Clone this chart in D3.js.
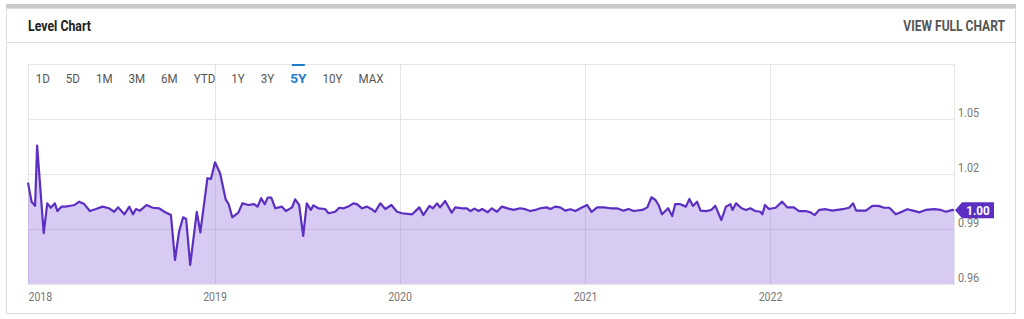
<!DOCTYPE html>
<html>
<head>
<meta charset="utf-8">
<script src="https://cdn.jsdelivr.net/npm/d3@7"></script>
<style>
  body { margin: 0; background: #fff; }
  svg { display: block; font-family: Roboto, "Noto Sans", sans-serif; }
</style>
</head>
<body>
<svg id="chart"></svg>
<script>
// weekly-ish readings of the level, by year
var dates2018 = ["2017-12-29","2018-01-05","2018-01-12","2018-01-16","2018-01-29","2018-02-05","2018-02-12","2018-02-20","2018-02-25","2018-03-05",
  "2018-03-13","2018-03-23","2018-03-31","2018-04-09","2018-04-19","2018-04-30","2018-05-12","2018-05-25","2018-06-07","2018-06-17",
  "2018-06-25","2018-07-07","2018-07-17","2018-07-24","2018-07-30","2018-08-07","2018-08-20","2018-09-01","2018-09-14","2018-09-24",
  "2018-10-07","2018-10-15","2018-10-23","2018-10-31","2018-11-06","2018-11-14","2018-11-27","2018-12-04","2018-12-18","2018-12-25"];
var levels2018 = [1.0153,1.0049,1.0026,1.0355,0.9878,1.0040,1.0016,1.0040,0.9998,1.0022,
  1.0022,1.0027,1.0031,1.0049,1.0036,0.9998,1.0009,1.0022,1.0013,0.9994,
  1.0018,0.9980,1.0022,0.9980,1.0009,1.0000,1.0031,1.0016,1.0013,0.9994,
  0.9976,0.9731,0.9885,0.9964,0.9955,0.9704,0.9994,0.9882,1.0177,1.0173];

var dates2019 = ["2019-01-02","2019-01-12","2019-01-23","2019-01-29","2019-02-05","2019-02-17","2019-02-25","2019-03-09","2019-03-20","2019-03-27",
  "2019-04-03","2019-04-10","2019-04-16","2019-04-23","2019-05-01","2019-05-14","2019-05-22","2019-06-03","2019-06-09","2019-06-17",
  "2019-06-25","2019-07-02","2019-07-10","2019-07-15","2019-07-25","2019-08-07","2019-08-14","2019-08-27","2019-09-04","2019-09-13",
  "2019-09-24","2019-10-02","2019-10-09","2019-10-19","2019-10-29","2019-11-07","2019-11-14","2019-11-24","2019-12-04","2019-12-16","2019-12-27"];
var levels2019 = [1.0264,1.0204,1.0062,1.0035,0.9964,0.9989,1.0040,1.0031,1.0036,1.0022,
  1.0068,1.0035,1.0071,1.0071,1.0013,1.0022,0.9998,1.0018,1.0062,1.0031,
  0.9862,1.0040,1.0004,1.0029,1.0013,1.0009,0.9986,0.9994,1.0016,1.0013,
  1.0026,1.0040,1.0036,1.0013,1.0022,1.0008,0.9994,1.0040,1.0009,1.0031,0.9994];

var dates2020 = ["2020-01-06","2020-01-26","2020-02-09","2020-02-17","2020-02-29","2020-03-07","2020-03-15","2020-03-21","2020-03-31","2020-04-13",
  "2020-04-20","2020-05-03","2020-05-13","2020-05-20","2020-05-28","2020-06-05","2020-06-12","2020-06-23","2020-07-01","2020-07-11",
  "2020-07-21","2020-08-03","2020-08-13","2020-08-26","2020-09-05","2020-09-15","2020-09-25","2020-10-05","2020-10-17","2020-10-25",
  "2020-11-03","2020-11-13","2020-11-23","2020-12-03","2020-12-13","2020-12-23"];
var levels2020 = [0.9986,0.9980,1.0018,0.9976,1.0026,1.0013,1.0040,1.0018,1.0053,0.9989,
  1.0018,1.0013,1.0013,0.9998,1.0011,0.9998,1.0009,0.9991,1.0013,0.9994,
  1.0022,1.0011,1.0004,1.0013,1.0008,0.9998,1.0004,1.0013,1.0018,1.0009,
  1.0022,1.0018,1.0000,1.0008,0.9998,1.0013];

var dates2021 = ["2021-01-05","2021-01-14","2021-01-25","2021-02-07","2021-02-20","2021-03-05","2021-03-18","2021-03-28","2021-04-07","2021-04-24",
  "2021-05-04","2021-05-12","2021-05-20","2021-05-26","2021-06-02","2021-06-14","2021-06-22","2021-06-28","2021-07-07","2021-07-19",
  "2021-07-26","2021-08-02","2021-08-10","2021-08-17","2021-08-30","2021-09-07","2021-09-15","2021-09-27","2021-10-06","2021-10-15",
  "2021-10-19","2021-10-26","2021-11-06","2021-11-15","2021-11-23","2021-12-03","2021-12-13","2021-12-17","2021-12-22","2021-12-30"];
var levels2021 = [1.0031,0.9994,1.0018,1.0018,1.0013,1.0013,1.0000,1.0009,0.9998,1.0004,
  1.0018,1.0073,1.0058,1.0031,0.9980,1.0013,0.9971,1.0036,1.0036,1.0022,
  1.0064,1.0026,1.0049,1.0000,0.9998,1.0004,1.0026,0.9949,1.0022,1.0035,
  1.0004,1.0040,1.0013,1.0004,1.0013,0.9998,0.9994,0.9980,1.0031,1.0009];

var dates2022 = ["2022-01-12","2022-01-25","2022-02-04","2022-02-17","2022-02-27","2022-03-12","2022-03-22","2022-03-30","2022-04-08","2022-04-21",
  "2022-05-04","2022-05-24","2022-06-06","2022-06-14","2022-06-20","2022-06-29","2022-07-09","2022-07-22","2022-08-03","2022-08-14",
  "2022-08-24","2022-08-29","2022-09-06","2022-09-18","2022-09-29","2022-10-10","2022-10-23","2022-11-04","2022-11-21","2022-12-04",
  "2022-12-14","2022-12-27","2022-12-30"];
var levels2022 = [1.0016,1.0049,1.0018,1.0018,0.9998,0.9998,0.9991,0.9976,1.0004,1.0008,
  1.0000,1.0008,1.0016,1.0040,1.0000,1.0000,1.0000,1.0026,1.0026,1.0016,
  1.0016,1.0004,0.9980,0.9994,1.0008,1.0000,0.9991,1.0004,1.0008,1.0004,
  0.9994,1.0004,1.0002];

var yearTicks = ["2018-01-01","2019-01-01","2020-01-01","2021-01-01","2022-01-01"];
var valueTicks = [0.96, 0.99, 1.02, 1.05];
var ranges = ["1D","5D","1M","3M","6M","YTD","1Y","3Y","5Y","10Y","MAX"];
var activeRange = "5Y";
var title = "Level Chart";
var linkText = "VIEW FULL CHART";

var chart = (function (d3) {
  var W = 1024, H = 319;
  var box = { left: 28, right: 954, top: 64, bottom: 284 };
  var lineColor = "#5c2fc2";

  var parse = d3.timeParse("%Y-%m-%d");

  // squeeze text to look like the condensed face of the original
  function condense(sel, k) {
    sel.each(function () {
      var w = this.getComputedTextLength();
      d3.select(this).attr("textLength", w * k).attr("lengthAdjust", "spacingAndGlyphs");
    });
    return sel;
  }

  function frame(svg) {
    svg.append("rect").attr("x", 6).attr("y", 4).attr("width", 1010).attr("height", 5).attr("fill", "#cbcbcb");
    svg.append("rect").attr("x", 6.5).attr("y", 8.5).attr("width", 1009).attr("height", 305)
      .attr("fill", "none").attr("stroke", "#dcdcdc");
    svg.append("line").attr("x1", 7).attr("x2", 1015).attr("y1", 42.5).attr("y2", 42.5).attr("stroke", "#dcdcdc");

    svg.append("text").attr("x", 28).attr("y", 31).attr("font-size", 14).attr("font-weight", 700)
      .attr("fill", "#222").text(title).call(condense, 0.88);
    svg.append("text").attr("x", 1005).attr("y", 31).attr("text-anchor", "end").attr("font-size", 14)
      .attr("font-weight", 700).attr("fill", "#555").text(linkText).call(condense, 0.86);
  }

  function buttons(svg) {
    var bx = 35.7;
    ranges.forEach(function (r) {
      var on = r === activeRange;
      var t = svg.append("text").attr("x", bx).attr("y", 83).attr("font-size", 13)
        .attr("font-weight", on ? 700 : 400).attr("fill", on ? "#1f7ccc" : "#555").text(r).call(condense, on ? 1.05 : 0.89);
      var w = +t.attr("textLength");
      if (on) {
        svg.append("rect").attr("x", bx + w / 2 - 6.5).attr("y", 64).attr("width", 13).attr("height", 2).attr("fill", "#1f7ccc");
      }
      bx += w + 16;
    });
  }

  function draw() {
    var series = [].concat(
      d3.zip(dates2018, levels2018), d3.zip(dates2019, levels2019), d3.zip(dates2020, levels2020),
      d3.zip(dates2021, levels2021), d3.zip(dates2022, levels2022)
    ).map(function (p) { return { date: parse(p[0]), value: p[1] }; });

    var svg = d3.select("#chart").attr("width", W).attr("height", H);

    var x = d3.scaleTime()
      .domain(d3.extent(series, function (d) { return d.date; }))
      .range([box.left, box.right]);
    var y = d3.scaleLinear().domain([0.96, 1.08]).range([box.bottom, box.top]);

    frame(svg);

    // grid
    var grid = svg.append("g").attr("stroke", "#e6e6e6").attr("shape-rendering", "crispEdges");
    grid.selectAll(".h").data(valueTicks.slice(1)).enter().append("line")
      .attr("x1", box.left).attr("x2", box.right)
      .attr("y1", function (d) { return Math.round(y(d)) + 0.5; })
      .attr("y2", function (d) { return Math.round(y(d)) + 0.5; });
    grid.selectAll(".v").data(yearTicks.slice(1)).enter().append("line")
      .attr("y1", box.top).attr("y2", box.bottom)
      .attr("x1", function (d) { return Math.round(x(parse(d))) + 0.5; })
      .attr("x2", function (d) { return Math.round(x(parse(d))) + 0.5; });
    grid.append("rect").attr("x", box.left + 0.5).attr("y", box.top + 0.5)
      .attr("width", box.right - box.left).attr("height", box.bottom - box.top).attr("fill", "none");

    buttons(svg);

    var area = d3.area()
      .x(function (d) { return x(d.date); })
      .y0(box.bottom)
      .y1(function (d) { return y(d.value); });
    var line = d3.line()
      .x(function (d) { return x(d.date); })
      .y(function (d) { return y(d.value); });

    svg.append("path").datum(series).attr("d", area).attr("fill", "#7a52d6").attr("fill-opacity", 0.3);
    svg.append("path").datum(series).attr("d", line).attr("fill", "none")
      .attr("stroke", lineColor).attr("stroke-width", 2.2).attr("stroke-linejoin", "round");

    // axes
    var yAxis = svg.append("g").attr("transform", "translate(958,0)")
      .call(d3.axisRight(y).tickValues(valueTicks).tickSize(0).tickPadding(0).tickFormat(d3.format(".2f")));
    yAxis.select(".domain").remove();
    yAxis.selectAll("text").attr("dy", "-0.2em").attr("font-size", 12).attr("fill", "#777")
      .attr("font-family", "Roboto, sans-serif").call(condense, 0.9);

    var xAxis = svg.append("g").attr("transform", "translate(0," + box.bottom + ")")
      .call(d3.axisBottom(x).tickValues(yearTicks.map(parse)).tickSize(0).tickPadding(8).tickFormat(d3.timeFormat("%Y")));
    xAxis.select(".domain").remove();
    xAxis.selectAll("text").attr("font-size", 12).attr("fill", "#777")
      .attr("font-family", "Roboto, sans-serif").call(condense, 0.88);
    xAxis.select(".tick text").attr("text-anchor", "start").attr("x", box.left - x(parse(yearTicks[0])));

    // last value tag
    var last = series[series.length - 1];
    var ty = y(last.value);
    var tag = svg.append("g").attr("transform", "translate(" + box.right + "," + ty + ")");
    tag.append("path").attr("d", "M1,0 L8,-8 L40,-8 L40,8 L8,8 Z").attr("fill", lineColor);
    tag.append("text").attr("x", 24).attr("y", 4.5).attr("text-anchor", "middle").attr("font-size", 13)
      .attr("font-weight", 700).attr("fill", "#fff").text(d3.format(".2f")(last.value)).call(condense, 0.9);
  }

  return { draw: draw };
})(d3);

chart.draw();
</script>
</body>
</html>
